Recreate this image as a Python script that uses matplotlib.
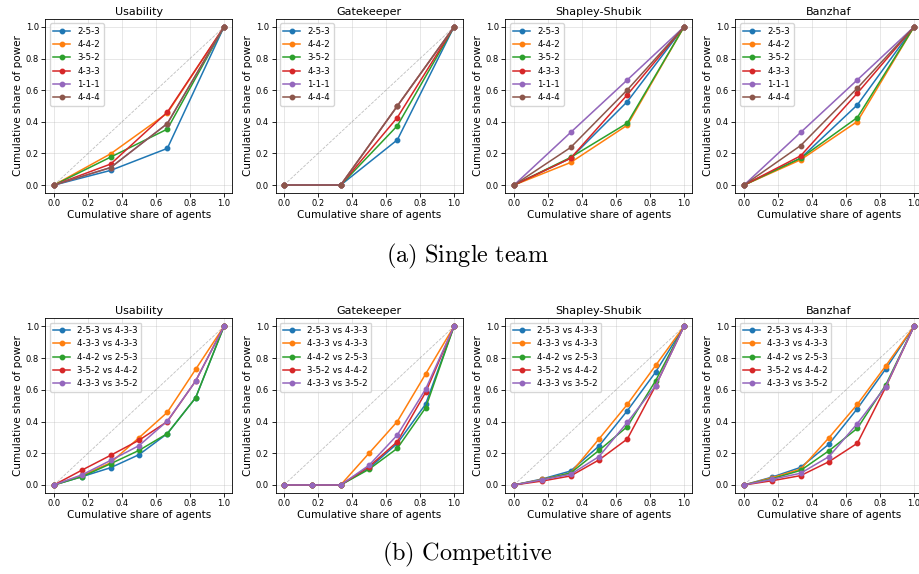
import matplotlib
matplotlib.use("Agg")
import matplotlib.pyplot as plt
import numpy as np

# x positions (cumulative share of agents)
x_single = [0, 1 / 3, 2 / 3, 1]
x_comp = [0, 1 / 6, 2 / 6, 3 / 6, 4 / 6, 5 / 6, 1]

indices = ["Usability", "Gatekeeper", "Shapley-Shubik", "Banzhaf"]

single_labels = ["2-5-3", "4-4-2", "3-5-2", "4-3-3", "1-1-1", "4-4-4"]
comp_labels = ["2-5-3 vs 4-3-3", "4-3-3 vs 4-3-3", "4-4-2 vs 2-5-3",
               "3-5-2 vs 4-4-2", "4-3-3 vs 3-5-2"]

# single team curves, one list per index, rows follow single_labels
single_usability = [
    [0, 0.093, 0.232, 1],
    [0, 0.198, 0.455, 1],
    [0, 0.177, 0.354, 1],
    [0, 0.133, 0.461, 1],
    [0, 0.111, 0.389, 1],
    [0, 0.111, 0.389, 1],
]
single_gatekeeper = [
    [0, 0, 0.286, 1],
    [0, 0, 0.5, 1],
    [0, 0, 0.375, 1],
    [0, 0, 0.427, 1],
    [0, 0, 0.5, 1],
    [0, 0, 0.5, 1],
]
single_shapley = [
    [0, 0.170, 0.528, 1],
    [0, 0.143, 0.379, 1],
    [0, 0.175, 0.392, 1],
    [0, 0.170, 0.571, 1],
    [0, 0.333, 0.665, 1],
    [0, 0.238, 0.602, 1],
]
single_banzhaf = [
    [0, 0.170, 0.507, 1],
    [0, 0.160, 0.402, 1],
    [0, 0.170, 0.427, 1],
    [0, 0.185, 0.581, 1],
    [0, 0.333, 0.665, 1],
    [0, 0.250, 0.613, 1],
]

# competitive curves, rows follow comp_labels
comp_usability = [
    [0, 0.053, 0.109, 0.191, 0.324, 0.550, 1],
    [0, 0.060, 0.140, 0.298, 0.458, 0.729, 1],
    [0, 0.053, 0.134, 0.218, 0.324, 0.550, 1],
    [0, 0.095, 0.187, 0.282, 0.400, 0.656, 1],
    [0, 0.065, 0.155, 0.248, 0.403, 0.655, 1],
]
comp_gatekeeper = [
    [0, 0, 0, 0.105, 0.262, 0.510, 1],
    [0, 0, 0, 0.200, 0.400, 0.700, 1],
    [0, 0, 0, 0.099, 0.231, 0.487, 1],
    [0, 0, 0, 0.115, 0.273, 0.584, 1],
    [0, 0, 0, 0.124, 0.315, 0.605, 1],
]
comp_shapley = [
    [0, 0.038, 0.088, 0.246, 0.468, 0.712, 1],
    [0, 0.035, 0.075, 0.290, 0.508, 0.754, 1],
    [0, 0.033, 0.076, 0.218, 0.368, 0.658, 1],
    [0, 0.025, 0.057, 0.158, 0.290, 0.626, 1],
    [0, 0.033, 0.067, 0.179, 0.395, 0.626, 1],
]
comp_banzhaf = [
    [0, 0.050, 0.111, 0.258, 0.481, 0.731, 1],
    [0, 0.046, 0.100, 0.298, 0.508, 0.750, 1],
    [0, 0.040, 0.092, 0.216, 0.357, 0.630, 1],
    [0, 0.027, 0.059, 0.147, 0.263, 0.616, 1],
    [0, 0.036, 0.074, 0.179, 0.387, 0.620, 1],
]

single_data = [single_usability, single_gatekeeper, single_shapley, single_banzhaf]
comp_data = [comp_usability, comp_gatekeeper, comp_shapley, comp_banzhaf]

W, H = 920, 574
fig = plt.figure(figsize=(W / 100, H / 100), dpi=100)


def px_axes(left, top, width, height):
    return fig.add_axes([left / W, 1 - (top + height) / H, width / W, height / H])


def draw_panel(ax, title, xs, rows, labels):
    ax.plot([0, 1], [0, 1], ls="--", color="gray", lw=0.6, alpha=0.5)
    for row, lab in zip(rows, labels):
        ax.plot(xs, row, marker="o", ms=3.2, lw=1.1, label=lab)
    ax.set_title(title, fontsize=8, pad=3)
    ax.set_xlabel("Cumulative share of agents", fontsize=7.5, labelpad=1)
    ax.set_ylabel("Cumulative share of power", fontsize=7.5, labelpad=2)
    ax.set_xticks(np.arange(0, 1.01, 0.2))
    ax.set_yticks(np.arange(0, 1.01, 0.2))
    ax.tick_params(labelsize=6, length=2.6, width=0.6, pad=2)
    ax.grid(True, color="#b0b0b0", lw=0.6, alpha=0.35)
    for s in ax.spines.values():
        s.set_linewidth(0.6)
    ax.legend(loc="upper left", fontsize=6.2, handlelength=2.0,
              borderpad=0.4, labelspacing=0.5, framealpha=0.8)


for i, name in enumerate(indices):
    ax = px_axes(45.5 + 230 * i, 19, 187, 174)
    draw_panel(ax, name, x_single, single_data[i], single_labels)

for i, name in enumerate(indices):
    ax = px_axes(45.5 + 230 * i, 318.4, 187, 174.5)
    draw_panel(ax, name, x_comp, comp_data[i], comp_labels)

fig.text(467.5 / W, 1 - 256 / H, r"$\mathrm{(a)\ Single\ team}$",
         math_fontfamily="cm", fontsize=17.5, ha="center", va="center")
fig.text(467.5 / W, 1 - 554 / H, r"$\mathrm{(b)\ Competitive}$",
         math_fontfamily="cm", fontsize=17.5, ha="center", va="center")

fig.savefig("out.png", dpi=100)
